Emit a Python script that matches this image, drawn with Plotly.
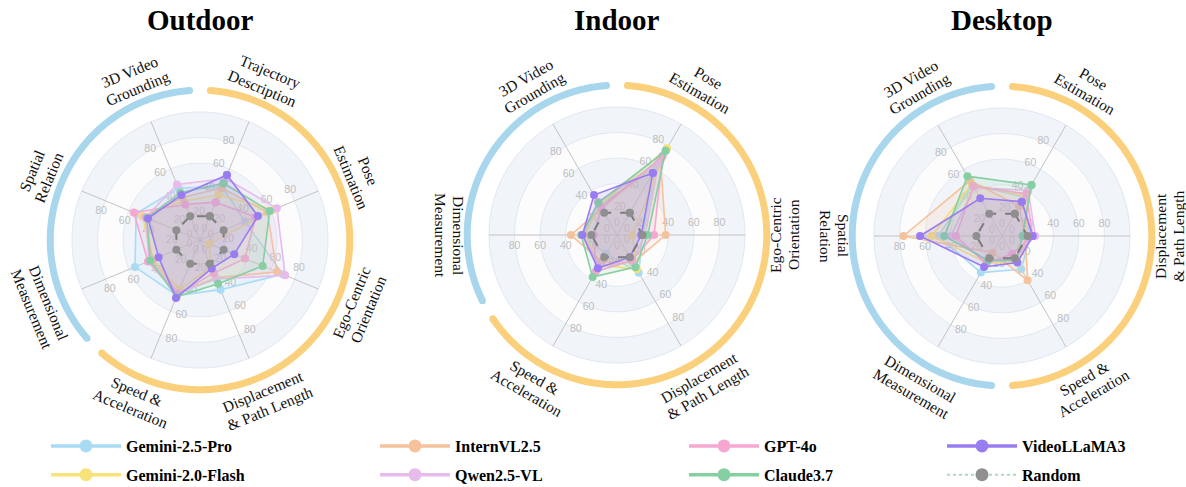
import math
import numpy as np
import plotly.graph_objects as go

W, H = 1186, 487

# ---------------- data ----------------
SERIES = ["Gemini-2.5-Pro", "Gemini-2.0-Flash", "InternVL2.5", "Qwen2.5-VL",
          "GPT-4o", "Claude3.7", "VideoLLaMA3", "Random"]

TICKS = [0, 20, 40, 60, 80]
RINGS = [20, 40, 60, 80, 100]

# Outdoor axes (clockwise from the top)
OUTDOOR_AXES = ["Trajectory\nDescription", "Pose\nEstimation", "Ego-Centric\nOrientation",
                "Displacement\n& Path Length", "Speed &\nAcceleration",
                "Dimensional\nMeasurement", "Spatial\nRelation", "3D Video\nGrounding"]
OUTDOOR_GROUPS = ["dynamic", "dynamic", "dynamic", "dynamic", "dynamic",
                  "static", "static", "static"]
OUT_GEMINI_25 = [45, 38, 70, 42, 47, 55, 54, 44]
OUT_GEMINI_20 = [38, 62, 8, 23, 42, 40, 49, 33]
OUT_INTERNVL = [44, 57, 65, 32, 45, 40, 47, 36]
OUT_QWEN = [52, 65, 72, 33, 45, 43, 46, 47]
OUT_GPT4O = [32, 47, 38, 28, 46, 44, 56, 30]
OUT_CLAUDE = [48, 59, 53, 37, 48, 42, 45, 40]
OUT_VIDEOLLAMA = [55, 49, 29, 24, 49, 35, 44, 38]
OUT_RANDOM = [20, 20, 20, 20, 20, 20, 20, 20]

# Indoor axes
INDOOR_AXES = ["Pose\nEstimation", "Ego-Centric\nOrientation", "Displacement\n& Path Length",
               "Speed &\nAcceleration", "Dimensional\nMeasurement", "3D Video\nGrounding"]
INDOOR_GROUPS = ["dynamic", "dynamic", "dynamic", "dynamic", "static", "static"]
IN_GEMINI_25 = [62, 20, 34, 17, 26, 27]
IN_GEMINI_20 = [78, 12, 31, 27, 25, 27]
IN_INTERNVL = [68, 38, 25, 24, 36, 24]
IN_QWEN = [65, 22, 24, 28, 27, 30]
IN_GPT4O = [71, 29, 23, 33, 18, 25]
IN_CLAUDE = [76, 24, 29, 38, 28, 29]
IN_VIDEOLLAMA = [56, 19, 20, 30, 27, 36]
IN_RANDOM = [20, 20, 20, 20, 20, 20]

# Desktop axes
DESKTOP_AXES = ["Pose\nEstimation", "Displacement\n& Path Length", "Speed &\nAcceleration",
                "Dimensional\nMeasurement", "Spatial\nRelation", "3D Video\nGrounding"]
DESKTOP_GROUPS = ["dynamic", "dynamic", "dynamic", "static", "static", "static"]
DESK_GEMINI_25 = [35, 22, 30, 33, 50, 46]
DESK_GEMINI_20 = [36, 20, 24, 24, 55, 47]
DESK_INTERNVL = [27, 18, 40, 15, 77, 50]
DESK_QWEN = [41, 26, 20, 23, 40, 44]
DESK_GPT4O = [38, 24, 16, 25, 36, 45]
DESK_CLAUDE = [46, 16, 22, 22, 45, 54]
DESK_VIDEOLLAMA = [31, 24, 24, 28, 64, 34]
DESK_RANDOM = [20, 20, 20, 20, 20, 20]

# ---------------- styling ----------------
SERIES_COLORS = {
    "Gemini-2.5-Pro": "#a9dbf5",
    "Gemini-2.0-Flash": "#f8e27a",
    "InternVL2.5": "#f5c29b",
    "Qwen2.5-VL": "#e7bbea",
    "GPT-4o": "#f6a7d2",
    "Claude3.7": "#86cfa3",
    "VideoLLaMA3": "#9a7cf2",
    "Random": "#8f8f8f",
}
GROUP_COLORS = {"static": "#a8d6ec", "dynamic": "#fbd07c"}
BAND_BLUE = "#f1f5fa"
BAND_WHITE = "#fcfcfd"
RING_COLOR = "#dfe5ef"
SPOKE_COLOR = "#c2c2c2"
TICK_COLOR = "#bdbdbd"

PXU = 1.28             # pixels per score unit
RMAX = 125             # radial range of every subplot
RPX = RMAX * PXU       # subplot radius in pixels
ARC_R = 117            # category arc radius (score units)
ARC_INSET = 4          # degrees trimmed at each arc end
ARC_W = 7
LABEL_R_PX = 173       # label distance for slanted axes
LABEL_R_SIDE_PX = 167  # label distance for horizontal axes
LINE_GAP = 18
TICK_OFF = 11.5

CHARTS = [
    dict(title="Outdoor", axes=OUTDOOR_AXES, groups=OUTDOOR_GROUPS, center=(200, 240),
         scores=dict(zip(SERIES, [OUT_GEMINI_25, OUT_GEMINI_20, OUT_INTERNVL, OUT_QWEN,
                                  OUT_GPT4O, OUT_CLAUDE, OUT_VIDEOLLAMA, OUT_RANDOM]))),
    dict(title="Indoor", axes=INDOOR_AXES, groups=INDOOR_GROUPS, center=(617, 235),
         scores=dict(zip(SERIES, [IN_GEMINI_25, IN_GEMINI_20, IN_INTERNVL, IN_QWEN,
                                  IN_GPT4O, IN_CLAUDE, IN_VIDEOLLAMA, IN_RANDOM]))),
    dict(title="Desktop", axes=DESKTOP_AXES, groups=DESKTOP_GROUPS, center=(1002, 236),
         scores=dict(zip(SERIES, [DESK_GEMINI_25, DESK_GEMINI_20, DESK_INTERNVL, DESK_QWEN,
                                  DESK_GPT4O, DESK_CLAUDE, DESK_VIDEOLLAMA, DESK_RANDOM]))),
]

LEGEND_COLUMNS = [["Gemini-2.5-Pro", "Gemini-2.0-Flash"], ["InternVL2.5", "Qwen2.5-VL"],
                  ["GPT-4o", "Claude3.7"], ["VideoLLaMA3", "Random"]]
LEGEND_X = [46, 375, 684, 942]
LEGEND_TOP = 429
LEGEND_ITEM_W = 70


def rgba(hex_color, alpha):
    h = hex_color.lstrip("#")
    r, g, b = int(h[0:2], 16), int(h[2:4], 16), int(h[4:6], 16)
    return f"rgba({r},{g},{b},{alpha})"


def paper(cx, cy, dx, dy):
    return (cx + dx) / W, 1 - (cy + dy) / H


fig = go.Figure()
annotations = []
polars = {}
circle = list(range(0, 361))

for ci, ch in enumerate(CHARTS):
    sp = "polar" if ci == 0 else f"polar{ci + 1}"
    cx, cy = ch["center"]
    n = len(ch["axes"])
    step = 360 / n
    thetas = [step / 2 + k * step for k in range(n)]

    polars[sp] = dict(
        domain=dict(x=[(cx - RPX) / W, (cx + RPX) / W],
                    y=[1 - (cy + RPX) / H, 1 - (cy - RPX) / H]),
        bgcolor="rgba(0,0,0,0)",
        radialaxis=dict(visible=False, range=[0, RMAX]),
        angularaxis=dict(visible=False, rotation=90, direction="clockwise"),
    )

    # alternating background bands
    for j, rad in enumerate(sorted(RINGS, reverse=True)):
        color = BAND_BLUE if j % 2 == 0 else BAND_WHITE
        fig.add_trace(go.Scatterpolar(
            r=[rad] * len(circle), theta=circle, mode="lines", fill="toself",
            fillcolor=color, line=dict(width=0, color=color),
            subplot=sp, showlegend=False, hoverinfo="skip"))

    # ring outlines
    rr, tt = [], []
    for rad in RINGS:
        rr += [rad] * len(circle) + [None]
        tt += circle + [None]
    fig.add_trace(go.Scatterpolar(r=rr, theta=tt, mode="lines",
                                  line=dict(color=RING_COLOR, width=1),
                                  subplot=sp, showlegend=False, hoverinfo="skip"))

    # spokes
    rr, tt = [], []
    for th in thetas:
        rr += [0, max(RINGS), None]
        tt += [th, th, None]
    fig.add_trace(go.Scatterpolar(r=rr, theta=tt, mode="lines",
                                  line=dict(color=SPOKE_COLOR, width=1),
                                  subplot=sp, showlegend=False, hoverinfo="skip"))

    # tick labels beside every spoke (counter-clockwise side)
    rr, tt, txt = [], [], []
    for th in thetas:
        for v in TICKS:
            rp = v * PXU
            rr.append(math.hypot(rp, TICK_OFF) / PXU)
            tt.append(th - math.degrees(math.atan2(TICK_OFF, rp)))
            txt.append(str(v))
    fig.add_trace(go.Scatterpolar(r=rr, theta=tt, mode="text", text=txt,
                                  textposition="middle center",
                                  textfont=dict(family="Liberation Sans", size=10.5, color=TICK_COLOR),
                                  subplot=sp, showlegend=False, hoverinfo="skip"))

    # series polygons
    for name in SERIES:
        vals = ch["scores"][name]
        r = list(vals) + [vals[0]]
        th = thetas + [thetas[0]]
        col = SERIES_COLORS[name]
        if name == "Random":
            fig.add_trace(go.Scatterpolar(
                r=r, theta=th, mode="lines+markers", name=name, legendgroup=name,
                line=dict(color="#7b7b7b", width=2, dash="dash"),
                marker=dict(size=8, color=col),
                subplot=sp, showlegend=False))
        else:
            fig.add_trace(go.Scatterpolar(
                r=r, theta=th, mode="lines+markers", name=name, legendgroup=name,
                fill="toself", fillcolor=rgba(col, 0.15),
                line=dict(color=col, width=1.6),
                marker=dict(size=8, color=col),
                subplot=sp, showlegend=False))

    # category arcs: one per run of consecutive axes of the same group
    runs = []
    for k, g in enumerate(ch["groups"]):
        if runs and runs[-1][0] == g:
            runs[-1][2] = k
        else:
            runs.append([g, k, k])
    for g, i0, i1 in runs:
        a0 = thetas[i0] - step / 2 + ARC_INSET
        a1 = thetas[i1] + step / 2 - ARC_INSET
        arc_t = list(np.linspace(a0, a1, int(a1 - a0) * 2 + 1))
        fig.add_trace(go.Scatterpolar(r=[ARC_R] * len(arc_t), theta=arc_t, mode="lines",
                                      line=dict(color=GROUP_COLORS[g], width=ARC_W),
                                      subplot=sp, showlegend=False, hoverinfo="skip"))
        fig.add_trace(go.Scatterpolar(r=[ARC_R, ARC_R], theta=[a0, a1], mode="markers",
                                      marker=dict(color=GROUP_COLORS[g], size=ARC_W),
                                      subplot=sp, showlegend=False, hoverinfo="skip"))

    # rotated axis labels
    for th, label in zip(thetas, ch["axes"]):
        rad = math.radians(th)
        ux, uy = math.sin(rad), -math.cos(rad)
        if 90 <= th <= 270:
            ang = th - 180
        elif th > 270:
            ang = th - 360
        else:
            ang = th
        dist = LABEL_R_SIDE_PX if th in (90, 270) else LABEL_R_PX
        a = math.radians(ang)
        upx, upy = math.sin(a), -math.cos(a)
        lines = label.split("\n")
        nl = len(lines)
        for i, line in enumerate(lines):
            off = ((nl - 1) / 2 - i) * LINE_GAP
            dx = dist * ux + off * upx
            dy = dist * uy + off * upy
            x, y = paper(cx, cy, dx, dy)
            annotations.append(dict(
                x=x, y=y, xref="paper", yref="paper", text=line, showarrow=False,
                xanchor="center", yanchor="middle", textangle=ang,
                font=dict(family="Liberation Serif", size=15.5, color="#111111")))

    # chart title
    tx, ty = paper(cx, 0, 0, 20)
    annotations.append(dict(
        x=tx, y=ty, xref="paper", yref="paper", text=ch["title"], showarrow=False,
        xanchor="center", yanchor="middle",
        font=dict(family="Liberation Serif", size=29, color="#000000", weight="bold")))

# legend entries (four columns of two)
legends = {}
for li, (names, lx) in enumerate(zip(LEGEND_COLUMNS, LEGEND_X)):
    key = "legend" if li == 0 else f"legend{li + 1}"
    legends[key] = dict(
        x=lx / W, y=1 - LEGEND_TOP / H, xanchor="left", yanchor="top", orientation="v",
        itemwidth=LEGEND_ITEM_W, tracegroupgap=5, bgcolor="rgba(0,0,0,0)", itemsizing="trace",
        font=dict(family="Liberation Serif", size=16, color="#000000", weight="bold"))
    for name in names:
        col = SERIES_COLORS[name]
        if name == "Random":
            line = dict(color="#a6dcc0", width=2, dash="dot")
        else:
            line = dict(color=col, width=3.5)
        fig.add_trace(go.Scatterpolar(
            r=[None], theta=[None], mode="lines+markers", name=name, legendgroup=name,
            line=line, marker=dict(size=13, color=col), subplot="polar",
            legend=key, showlegend=True))

fig.update_layout(
    width=W, height=H, margin=dict(l=0, r=0, t=0, b=0, autoexpand=False),
    paper_bgcolor="white", plot_bgcolor="white",
    annotations=annotations, hovermode=False,
    **polars, **legends)

fig.write_html("out.html")
